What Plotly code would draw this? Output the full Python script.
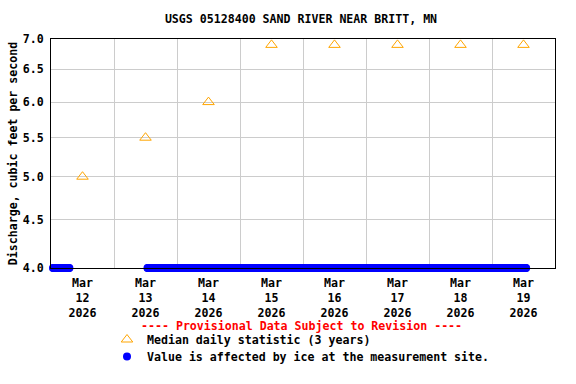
import plotly.graph_objects as go
import pandas as pd
import numpy as np

# Median daily statistic (3 years)
median_dates = ["2026-03-12 12:00", "2026-03-13 12:00", "2026-03-14 12:00", "2026-03-15 12:00",
                "2026-03-16 12:00", "2026-03-17 12:00", "2026-03-18 12:00", "2026-03-19 12:00"]
median_values = [5.0, 5.5, 6.0, 6.9, 6.9, 6.9, 6.9, 6.9]

# Ice-affected periods (plotted at bottom of axis)
ice_starts = ["2026-03-12 00:45", "2026-03-13 12:45"]
ice_ends = ["2026-03-12 07:00", "2026-03-19 13:00"]
ice_freq = "15min"
ice_level = 4.0

y_ticks = [4.0, 4.5, 5.0, 5.5, 6.0, 6.5, 7.0]
y_ticktext = ["4.0", "4.5", "5.0", "5.5", "6.0", "6.5", "7.0"]

x_range = ["2026-03-12 00:00", "2026-03-20 00:00"]

ice_x = []
ice_y = []
for s, e in zip(ice_starts, ice_ends):
    rng = pd.date_range(s, e, freq=ice_freq)
    ice_x.extend(rng.strftime("%Y-%m-%d %H:%M").tolist())
    ice_y.extend([ice_level] * len(rng))
    ice_x.append(None)
    ice_y.append(None)

FONT = "DejaVu Sans Mono"
FS = 11.6

fig = go.Figure()
fig.add_trace(go.Scatter(
    x=median_dates, y=median_values, mode="markers",
    name="<b>Median daily statistic (3 years)</b>",
    marker=dict(symbol="triangle-up-open", size=10, color="#FFA500", line=dict(width=1, color="#FFA500")),
    cliponaxis=False, legend="legend"))
fig.add_trace(go.Scatter(
    x=ice_x, y=ice_y, mode="markers",
    name="<b>Value is affected by ice at the measurement site.</b>",
    marker=dict(symbol="circle", size=8, color="#0000FF"),
    cliponaxis=False, legend="legend2"))

leg_x = (107 - 51) / 504
fig.update_layout(
    width=576, height=384,
    margin=dict(l=51, r=21, t=39, b=116, autoexpand=False),
    paper_bgcolor="white", plot_bgcolor="white",
    font=dict(family=FONT, size=FS, color="black"),
    title=dict(text="<b>USGS 05128400 SAND RIVER NEAR BRITT, MN</b>", x=(301 / 576), xanchor="center",
               y=1 - 19 / 384, yanchor="middle", font=dict(family=FONT, size=FS)),
    showlegend=True,
    legend=dict(x=leg_x, xanchor="left", y=-(334 - 268 - 9) / 229, yanchor="top",
                font=dict(family=FONT, size=FS), bgcolor="rgba(0,0,0,0)", itemwidth=30),
    legend2=dict(x=leg_x, xanchor="left", y=-(351 - 268 - 9) / 229, yanchor="top",
                 font=dict(family=FONT, size=FS), bgcolor="rgba(0,0,0,0)", itemwidth=30),
    annotations=[dict(text="<b>---- Provisional Data Subject to Revision ----</b>", xref="paper", yref="paper",
                      x=(301 - 51) / 504, y=-(325.5 - 268) / 229, xanchor="center", yanchor="middle",
                      borderpad=0, showarrow=False, font=dict(family=FONT, size=FS, color="red"))],
)

fig.update_xaxes(
    type="date", range=x_range,
    tick0="2026-03-12", dtick=86400000, ticklabelmode="period",
    tickformat="<b>%b</b><br><b>%d</b><br><b>%Y</b>", ticklabelstandoff=4,
    showgrid=True, gridcolor="#CCCCCC", gridwidth=1,
    showline=True, linecolor="black", linewidth=1, mirror=True,
    ticks="", tickfont=dict(family=FONT, size=FS), zeroline=False, automargin=False,
)
fig.update_yaxes(
    type="log", range=[np.log10(4.0) - 1e-6, np.log10(7.0)],
    tickvals=y_ticks, ticktext=["<b>%s</b>" % t for t in y_ticktext],
    showgrid=True, gridcolor="#CCCCCC", gridwidth=1,
    showline=True, linecolor="black", linewidth=1, mirror=True,
    ticks="", ticklabelstandoff=4, tickfont=dict(family=FONT, size=FS),
    title=dict(text="<b>Discharge, cubic feet per second</b>", font=dict(family=FONT, size=FS), standoff=2),
    zeroline=False, automargin=False,
)

fig.write_html("out.html", config={"displayModeBar": False},
               post_script="document.body.style.margin='0';")
